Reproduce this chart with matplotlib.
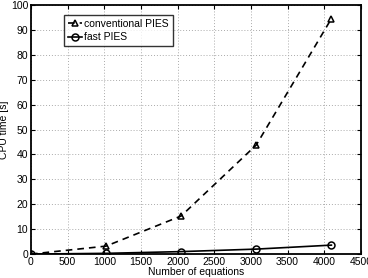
import matplotlib
matplotlib.use("Agg")
import matplotlib.pyplot as plt

equations = [0, 1024, 2048, 3072, 4096]
conventional = [0.0, 3.2, 15.3, 43.8, 94.5]
fast = [0.0, 0.3, 1.0, 2.0, 3.6]
xticks = [0, 500, 1000, 1500, 2000, 2500, 3000, 3500, 4000, 4500]
yticks = [0, 10, 20, 30, 40, 50, 60, 70, 80, 90, 100]

plt.rcParams['font.family'] = ['Liberation Sans', 'DejaVu Sans']
fig = plt.figure(figsize=(3.68, 2.78), dpi=100)
ax = fig.add_axes([0.084, 0.086, 0.897, 0.896])
ax.plot(equations, conventional, color='black', linestyle=(0, (4, 3)), marker='^', mfc='none',
        ms=5, lw=1.2, mew=1.1, label='conventional PIES')
ax.plot(equations, fast, 'k-o', mfc='none', ms=5, lw=1.2, mew=1.1, label='fast PIES')
ax.set_xlim(0, 4500)
ax.set_ylim(0, 100)
ax.set_xticks(xticks)
ax.set_yticks(yticks)
ax.tick_params(labelsize=7.5, direction='in', length=3, pad=2, top=True, right=True)
ax.grid(True, linestyle=(0, (1, 2)), color='#aaaaaa', lw=0.7)
ax.set_xlabel('Number of equations', fontsize=7.5, labelpad=0)
ax.set_ylabel('CPU time [s]', fontsize=7.5, labelpad=1)
for s in ax.spines.values():
    s.set_linewidth(1.3)
leg = ax.legend(loc='upper left', bbox_to_anchor=(0.1, 0.96), fontsize=7.5, frameon=True,
                fancybox=False, edgecolor='black', handlelength=1.4, handletextpad=0.2,
                borderpad=0.35, labelspacing=0.35, borderaxespad=0)
leg.get_frame().set_linewidth(1.0)
fig.savefig('out.png', dpi=100)
